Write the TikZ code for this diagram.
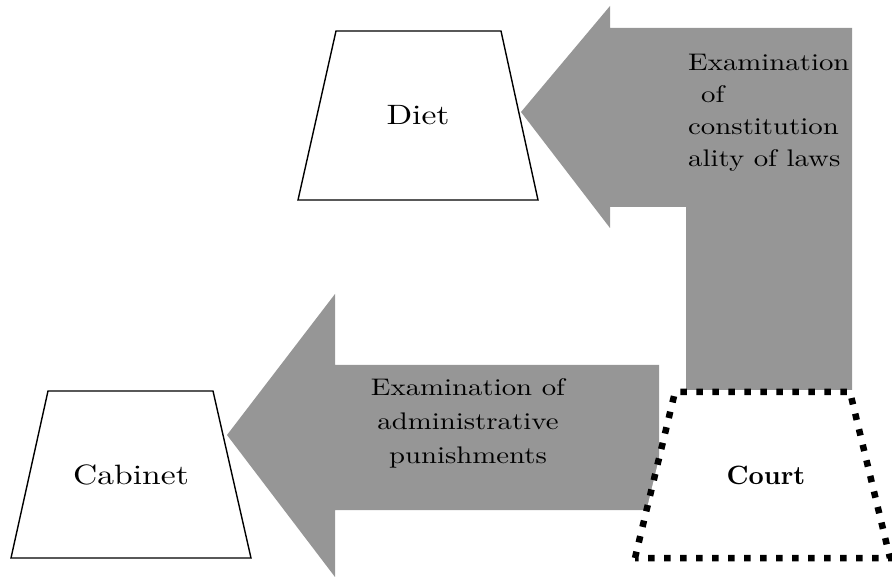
\documentclass[tikz,border=0pt]{standalone}
\usepackage{fontspec}
\setmainfont{lmroman10-regular.otf}[FakeStretch=1.2]
\newfontfamily\courtfont{lmroman10-bold.otf}
\usetikzlibrary{backgrounds}
\definecolor{arrowgray}{RGB}{150,150,150}

\begin{document}
\begin{tikzpicture}[x=1pt, y=-1pt,
organ/.style={draw=black, line width=1.4pt, fill=white},
courtbox/.style={draw=black, line width=6.5pt, dash pattern=on 6.5pt off 9.5pt, fill=white},
organtext/.style={font=\fontsize{28}{32}\selectfont},
courttext/.style={font=\fontsize{26.5}{30}\courtfont},
bigarrow/.style={fill=arrowgray, draw=none},
arrowtext/.style={font=\fontsize{24}{32}\selectfont, inner sep=0pt}
]
\useasboundingbox (0,0) rectangle (892,577);

%Boxes
\draw[organ] (298,200) -- (336,31) -- (501,31) -- (538,200) -- cycle;
\draw[organ] (11,558) -- (48,391) -- (213,391) -- (251,558) -- cycle;
\draw[courtbox] (635,558) -- (675,392) -- (850,392) -- (890,558) -- cycle;

%Nodes
\node[organtext] (diet)    at (418,115.5) {Diet};
\node[organtext] (cabinet) at (131,474.5) {Cabinet};
\node[courttext] (court)   at (766,475)   {Court};

%Arrows
\begin{scope}[on background layer]
\draw[bigarrow] (521,112) -- (610,6) -- (610,28) -- (852,28) -- (852,390) -- (686,390) -- (686,207) -- (610,207) -- (610,228) -- cycle;
\draw[bigarrow] (227,435) -- (335,294) -- (335,365) -- (659,365) -- (659,510) -- (335,510) -- (335,577) -- cycle;
\end{scope}

%Labels
\node[arrowtext, align=left, anchor=north west] (lawtext) at (688,53.5) {Examination\\\hspace*{13pt}of\\constitution\\ality of laws};
\node[arrowtext, align=center, anchor=north, font=\fontsize{24}{34}\selectfont] (admintext) at (468,378.5) {Examination of\\administrative\\punishments};

\end{tikzpicture}
\end{document}
